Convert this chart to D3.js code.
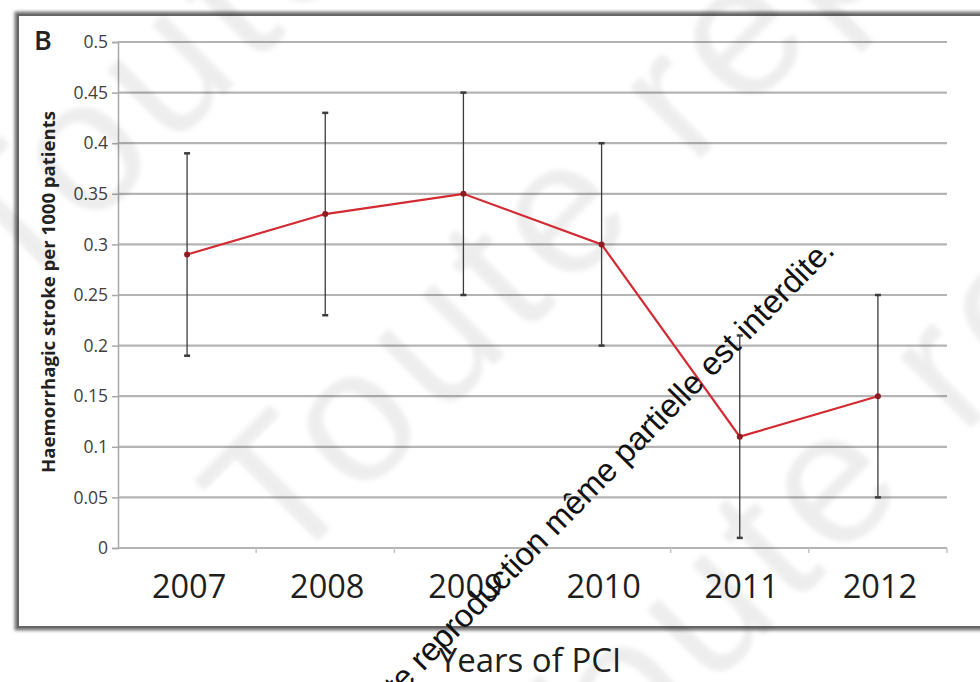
<!DOCTYPE html>
<html>
<head>
<meta charset="utf-8">
<script src="https://cdn.jsdelivr.net/npm/d3@7/dist/d3.min.js"></script>
<style>
  html, body { margin: 0; padding: 0; background: #fff; }
  svg { display: block; }
</style>
</head>
<body>
<svg id="chart" width="980" height="682"></svg>
<script>
// Haemorrhagic stroke rate by year of PCI, with error bars
const years = ["2007", "2008", "2009", "2010", "2011", "2012"];
const rate = [0.29, 0.33, 0.35, 0.30, 0.11, 0.15];
const lower = [0.19, 0.23, 0.25, 0.20, 0.01, 0.05];
const upper = [0.39, 0.43, 0.45, 0.40, 0.21, 0.25];
const yTicks = [0, 0.05, 0.1, 0.15, 0.2, 0.25, 0.3, 0.35, 0.4, 0.45, 0.5];

const svg = d3.select("#chart");

// Filters: soft frame shadow and a blurred background notice
const defs = svg.append("defs");
const soft = defs.append("filter").attr("id", "soft")
  .attr("x", "-5%").attr("y", "-5%").attr("width", "110%").attr("height", "110%");
soft.append("feGaussianBlur").attr("stdDeviation", 1.8);
const haze = defs.append("filter").attr("id", "haze")
  .attr("x", "-10%").attr("y", "-10%").attr("width", "120%").attr("height", "120%");
haze.append("feGaussianBlur").attr("stdDeviation", 2.5);

// Panel frame
svg.append("rect")
  .attr("x", 18).attr("y", 15).attr("width", 990).attr("height", 612)
  .attr("fill", "none").attr("stroke", "#777").attr("stroke-width", 7)
  .attr("filter", "url(#soft)");
svg.append("rect")
  .attr("x", 18).attr("y", 15).attr("width", 990).attr("height", 612)
  .attr("fill", "#fff").attr("stroke", "#666").attr("stroke-width", 2);

const x = d3.scaleBand().domain(years).range([118, 947]).padding(0);
const y = d3.scaleLinear().domain([0, 0.5]).range([548, 42]);
const cx = d => x(d) + x.bandwidth() / 2;

// Horizontal gridlines
svg.append("g")
  .selectAll("line")
  .data(yTicks)
  .join("line")
  .attr("x1", 118).attr("x2", 947)
  .attr("y1", d => y(d)).attr("y2", d => y(d))
  .attr("stroke", "#b4b4b4").attr("stroke-width", 2.2);

// Y axis
const yAxis = svg.append("g")
  .attr("transform", "translate(118,0)")
  .call(d3.axisLeft(y).tickValues(yTicks).tickSize(6).tickPadding(4)
    .tickFormat(d => String(+d.toFixed(2))));
yAxis.select(".domain").attr("stroke", "#a8a8a8").attr("stroke-width", 1.5);
yAxis.selectAll(".tick line").attr("stroke", "#a8a8a8").attr("stroke-width", 1.5);
yAxis.selectAll(".tick text")
  .attr("font-family", "Open Sans, sans-serif").attr("font-size", 17.5)
  .attr("fill", "#404040");

// X axis: ticks on category boundaries, labels centred in each band
const xAxisG = svg.append("g").attr("transform", "translate(0,548)");
xAxisG.selectAll("line.bound")
  .data(years)
  .join("line")
  .attr("class", "bound")
  .attr("x1", d => x(d) + x.bandwidth())
  .attr("x2", d => x(d) + x.bandwidth())
  .attr("y1", 0).attr("y2", 5)
  .attr("stroke", "#c4c4c4").attr("stroke-width", 1.5);
xAxisG.selectAll("text")
  .data(years)
  .join("text")
  .attr("x", d => cx(d) + 2)
  .attr("y", 50)
  .attr("text-anchor", "middle")
  .attr("font-family", "Open Sans, sans-serif")
  .attr("font-size", 32.5)
  .attr("fill", "#1e1e1e")
  .text(d => d);

// Faint large background notice
const notice = "Toute reproduction même partielle est interdite.";
const faint = svg.append("g").attr("opacity", 0.065).attr("filter", "url(#haze)");
[[283, 576], [13, 306], [553, 846]].forEach(([tx, ty]) => {
  faint.append("text")
    .attr("transform", `translate(${tx},${ty}) rotate(-45)`)
    .attr("font-family", "Liberation Sans, Arial, sans-serif")
    .attr("font-size", 190)
    .attr("letter-spacing", 10)
    .attr("fill", "#000")
    .text(notice);
});

// Error bars
const eb = svg.append("g");
eb.selectAll("line.bar")
  .data(years)
  .join("line")
  .attr("class", "bar")
  .attr("x1", d => cx(d)).attr("x2", d => cx(d))
  .attr("y1", (d, i) => y(lower[i])).attr("y2", (d, i) => y(upper[i]))
  .attr("stroke", "#3c3c3c").attr("stroke-width", 1.3);
[["lo", lower], ["hi", upper]].forEach(([k, vals]) => {
  eb.selectAll("line.cap" + k)
    .data(years)
    .join("line")
    .attr("class", "cap" + k)
    .attr("x1", d => cx(d) - 3).attr("x2", d => cx(d) + 3)
    .attr("y1", (d, i) => y(vals[i])).attr("y2", (d, i) => y(vals[i]))
    .attr("stroke", "#3c3c3c").attr("stroke-width", 2.5);
});

// Rate line and markers
const line = d3.line().x((d, i) => cx(years[i])).y(d => y(d));
svg.append("path")
  .datum(rate)
  .attr("d", line)
  .attr("fill", "none")
  .attr("stroke", "#d42a33")
  .attr("stroke-width", 2.2);
svg.append("g")
  .selectAll("circle")
  .data(rate)
  .join("circle")
  .attr("cx", (d, i) => cx(years[i]))
  .attr("cy", d => y(d))
  .attr("r", 3)
  .attr("fill", "#8e1a22");

// Panel letter
svg.append("text")
  .attr("x", 34).attr("y", 50)
  .attr("font-family", "Open Sans, sans-serif")
  .attr("font-size", 27)
  .attr("font-weight", 600)
  .attr("fill", "#222")
  .text("B");

// Y axis title
svg.append("text")
  .attr("transform", "translate(55,292) rotate(-90)")
  .attr("text-anchor", "middle")
  .attr("font-family", "Open Sans, sans-serif")
  .attr("font-size", 17)
  .attr("font-weight", "bold")
  .attr("textLength", 362)
  .attr("lengthAdjust", "spacingAndGlyphs")
  .attr("fill", "#222")
  .text("Haemorrhagic stroke per 1000 patients");

// X axis title
svg.append("text")
  .attr("x", 530).attr("y", 672)
  .attr("text-anchor", "middle")
  .attr("font-family", "Open Sans, sans-serif")
  .attr("font-size", 33)
  .attr("fill", "#1e1e1e")
  .text("Years of PCI");

// Diagonal notice text
svg.append("text")
  .attr("transform", "translate(836,252) rotate(-45.5)")
  .attr("text-anchor", "end")
  .attr("font-family", "Liberation Sans, Arial, sans-serif")
  .attr("font-size", 32.5)
  .attr("fill", "#111")
  .text(notice);
</script>
</body>
</html>
